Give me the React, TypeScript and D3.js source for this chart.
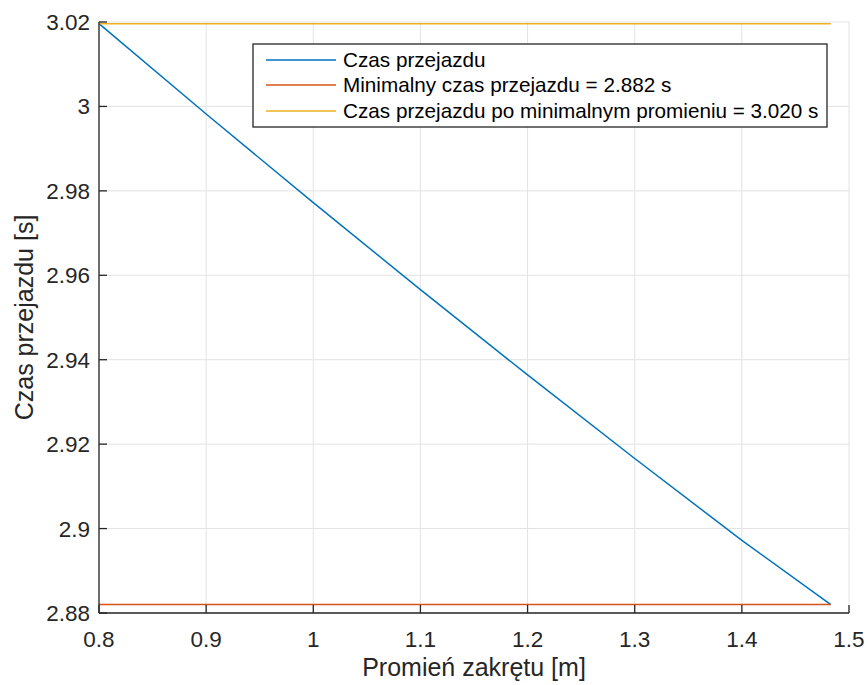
import React from 'react'
import * as d3 from 'd3'

// promień zakrętu [m] i czas przejazdu [s]
const radius = [0.8, 0.9, 1.0, 1.1, 1.2, 1.3, 1.4, 1.483]
const travelTime = [3.0196, 2.9982, 2.9772, 2.9566, 2.9364, 2.9166, 2.8972, 2.882]
const minTime = 2.882
const timeAtMinRadius = 3.0196
const xTicks = [0.8, 0.9, 1, 1.1, 1.2, 1.3, 1.4, 1.5]
const yTicks = [2.88, 2.9, 2.92, 2.94, 2.96, 2.98, 3, 3.02]
const legendLabels = [
  'Czas przejazdu',
  'Minimalny czas przejazdu = 2.882 s',
  'Czas przejazdu po minimalnym promieniu = 3.020 s',
]
const colors = ['#0072BD', '#D95319', '#EDB120']

const W = 868, H = 685
const margin = { top: 22, right: 19, bottom: 72, left: 99 }
const font = '"Liberation Sans", Arial, Helvetica, sans-serif'
const axisColor = '#262626'

export default function App() {
  const x = d3.scaleLinear().domain([0.8, 1.5]).range([margin.left, W - margin.right])
  const y = d3.scaleLinear().domain([2.88, 3.02]).range([H - margin.bottom, margin.top])
  const line = d3.line<[number, number]>().x(d => x(d[0])).y(d => y(d[1]))

  const mainPts: [number, number][] = radius.map((r, i) => [r, travelTime[i]])
  const x0 = radius[0], x1 = radius[radius.length - 1]
  const minPts: [number, number][] = [[x0, minTime], [x1, minTime]]
  const radPts: [number, number][] = [[x0, timeAtMinRadius], [x1, timeAtMinRadius]]

  const tick = 8
  const lx = 253, ly = 44, lw = 574, lh = 83
  const rowY = [60, 85, 111]

  return (
    <svg width={W} height={H} style={{ position: 'absolute', left: 0, top: 0, background: '#fff' }}
      fontFamily={font}>
      {/* siatka */}
      {xTicks.map(t => (
        <line key={'gx' + t} x1={x(t)} x2={x(t)} y1={y(2.88)} y2={y(3.02)} stroke="#e3e3e3" strokeWidth={1} />
      ))}
      {yTicks.map(t => (
        <line key={'gy' + t} x1={x(0.8)} x2={x(1.5)} y1={y(t)} y2={y(t)} stroke="#e3e3e3" strokeWidth={1} />
      ))}

      <path d={line(mainPts)!} fill="none" stroke={colors[0]} strokeWidth={1.5} />
      <path d={line(minPts)!} fill="none" stroke={colors[1]} strokeWidth={1.5} />
      <path d={line(radPts)!} fill="none" stroke={colors[2]} strokeWidth={1.5} />

      {/* osie */}
      <line x1={x(0.8)} x2={x(1.5)} y1={y(2.88)} y2={y(2.88)} stroke={axisColor} strokeWidth={1.3} />
      <line x1={x(0.8)} x2={x(0.8)} y1={y(2.88)} y2={y(3.02)} stroke={axisColor} strokeWidth={1.3} />
      {xTicks.map(t => (
        <g key={'tx' + t}>
          <line x1={x(t)} x2={x(t)} y1={y(2.88)} y2={y(2.88) - tick} stroke={axisColor} strokeWidth={1.3} />
          <text x={x(t)} y={647} textAnchor="middle" fontSize={22.5} fill={axisColor}>{String(t)}</text>
        </g>
      ))}
      {yTicks.map(t => (
        <g key={'ty' + t}>
          <line x1={x(0.8)} x2={x(0.8) + tick} y1={y(t)} y2={y(t)} stroke={axisColor} strokeWidth={1.3} />
          <text x={90} y={y(t) + 8} textAnchor="end" fontSize={22.5} fill={axisColor}>{String(t)}</text>
        </g>
      ))}

      <text x={(x(0.8) + x(1.5)) / 2} y={676} textAnchor="middle" fontSize={25} fill={axisColor}>Promień zakrętu [m]</text>
      <text transform={`translate(33,${(y(2.88) + y(3.02)) / 2}) rotate(-90)`} textAnchor="middle" fontSize={25}
        fill={axisColor}>Czas przejazdu [s]</text>

      {/* legenda */}
      <rect x={lx} y={ly} width={lw} height={lh} fill="#fff" stroke={axisColor} strokeWidth={1.3} />
      {legendLabels.map((lab, i) => (
        <g key={lab}>
          <line x1={266} x2={336} y1={rowY[i]} y2={rowY[i]} stroke={colors[i]} strokeWidth={1.5} />
          <text x={343} y={rowY[i] + 7} fontSize={20.7} fill="#000">{lab}</text>
        </g>
      ))}
    </svg>
  )
}
